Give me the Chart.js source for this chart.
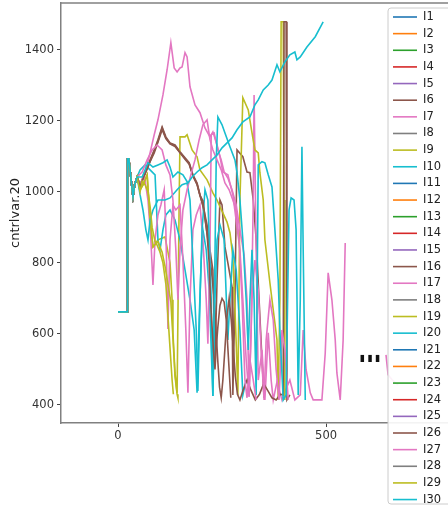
<!DOCTYPE html>
<html>
<head>
<meta charset="utf-8">
<script src="https://cdn.jsdelivr.net/npm/chart.js@4.4.1/dist/chart.umd.min.js"></script>
<style>
  html, body { margin: 0; padding: 0; background: #fff; }
</style>
</head>
<body>
<canvas id="chart" width="448" height="512"></canvas>
<script>
// series names, as in the legend
const seriesNames = ["I1", "I2", "I3", "I4", "I5", "I6", "I7", "I8", "I9", "I10",
  "I11", "I12", "I13", "I14", "I15", "I16", "I17", "I18", "I19", "I20",
  "I21", "I22", "I23", "I24", "I25", "I26", "I27", "I28", "I29", "I30"];

const xTicks = [0, 500];
const yTicks = [400, 600, 800, 1000, 1200, 1400];

// shared beginning of every run (step at 660 then jump)
const startX = [0, 22, 23, 26, 30, 36, 40, 46];
const startY = [662, 662, 1093, 1093, 1050, 986, 1020, 1042];

// own part of each visible series, after the shared beginning
const i6X = [53, 65, 77, 87, 96, 106, 115, 125, 137, 149, 161, 171, 180, 190, 197, 204, 214, 221, 228, 233, 238, 245, 250, 257, 264, 274, 276, 281, 286, 300, 310, 317, 325, 332, 339, 346, 351];
const i6Y = [1020, 1056, 1090, 1118, 1147, 1183, 1155, 1138, 1132, 1113, 1096, 1082, 1048, 1025, 992, 963, 907, 837, 780, 521, 752, 977, 963, 845, 800, 732, 428, 696, 1118, 1099, 1056, 1054, 977, 865, 696, 527, 420];

const i7X = [53, 60, 70, 77, 87, 96, 108, 118, 127, 135, 142, 149, 154, 161, 166, 173, 185, 197, 209, 221, 228, 238, 245, 252, 264, 276, 286, 293, 300, 308, 315, 320, 325, 327, 332, 337, 346, 353, 361, 368, 373, 382, 394, 401, 413, 425, 438, 445, 452, 462, 469, 481, 490, 498, 505, 514, 522, 526, 534, 541, 546, 565, 644, 649, 659, 673];
const i7Y = [1006, 1034, 1076, 1110, 1161, 1203, 1273, 1344, 1420, 1349, 1338, 1349, 1352, 1392, 1380, 1296, 1245, 1223, 1180, 1155, 1169, 1132, 1099, 1056, 1048, 992, 901, 837, 696, 527, 423, 611, 977, 1273, 837, 470, 555, 414, 603, 470, 414, 465, 414, 437, 470, 414, 428, 611, 499, 434, 414, 414, 414, 546, 772, 696, 583, 490, 414, 583, 856, null, 541, 485, 470, 456];

const i9X = [53, 60, 70, 77, 84, 96, 113, 125, 130, 132, 137, 142, 147, 149, 161, 166, 178, 190, 197, 214, 228, 238, 245, 252, 262, 269, 276, 281, 284, 288, 293, 300, 313, 322, 329, 337, 341, 349, 353, 365, 373, 382, 385, 389, 392, 397, 399, 401];
const i9Y = [1006, 1020, 1048, 921, 845, 865, 873, 800, 696, 603, 490, 434, 977, 1155, 1155, 1161, 1118, 1099, 1062, 1034, 997, 977, 958, 941, 915, 885, 817, 668, 575, 428, 977, 1265, 1231, 1166, 1118, 1110, 1054, 977, 865, 744, 668, 583, 414, 696, 1479, 1479, 977, 414];

const i10X = [53, 65, 77, 89, 96, 101, 108, 115, 125, 137, 149, 161, 173, 183, 190, 195, 200, 204, 212, 219, 228, 233, 238, 245, 255, 264, 269, 276, 284, 293, 300, 308];
const i10Y = [1062, 1076, 1062, 1048, 865, 837, 893, 935, 949, 921, 865, 780, 696, 611, 434, 639, 808, 893, 837, 724, 425, 696, 865, 907, 865, 583, 696, 837, 780, 611, 428, 470];

const i16X = [53, 65, 77, 87, 96, 106, 115, 125, 137, 149, 161, 171, 180, 190, 197, 204, 212, 219, 226, 231, 236, 240, 244, 248, 252, 257, 262, 267, 272, 277, 282, 287, 293, 300, 310, 320, 330, 340, 350, 360, 370, 380, 390, 397, 399, 404, 406, 413];
const i16Y = [1020, 1050, 1085, 1110, 1140, 1175, 1150, 1135, 1128, 1110, 1092, 1078, 1045, 1020, 990, 960, 900, 840, 760, 700, 600, 520, 450, 420, 470, 560, 650, 700, 640, 560, 480, 430, 414, 440, 470, 440, 414, 430, 460, 440, 420, 414, 430, 428, 1479, 1479, 414, 428];

const i17X = [53, 63, 72, 79, 84, 89, 96, 103, 111, 115, 120, 125, 132, 139, 149, 156, 163, 168, 173, 180, 188, 197, 204, 212, 216, 221, 224, 231, 240, 248, 255, 264, 274, 284, 293, 303, 310, 315, 322, 329, 337, 344, 351, 356, 365, 373, 380, 387, 394, 401, 409];
const i17Y = [1020, 1048, 977, 865, 738, 865, 935, 963, 1006, 893, 614, 865, 963, 949, 963, 808, 611, 434, 696, 893, 935, 963, 865, 696, 572, 837, 1161, 1166, 1118, 1090, 1056, 1039, 1006, 963, 893, 823, 696, 423, 696, 808, 724, 555, 414, 583, 696, 639, 499, 414, 611, 555, 414];

const i19X = [53, 60, 70, 77, 84, 96, 106, 113, 120, 127, 132, 137, 142, 144];
const i19Y = [1006, 1020, 1048, 921, 845, 860, 830, 790, 740, 690, 590, 480, 430, 420];

const i20X = [53, 60, 67, 72, 77, 84, 96, 113, 125, 142, 154, 166, 173, 180, 188, 192, 197, 202, 209, 216, 224, 228, 233, 236, 240, 250, 257, 269, 281, 286, 293, 300, 308, 313, 317, 322, 327, 332, 337, 346, 353, 361, 370, 377, 385, 389, 397, 404, 411, 416, 423, 428, 433, 438, 442, 445, 450];
const i20Y = [992, 949, 893, 865, 921, 949, 977, 977, 983, 1006, 1020, 1025, 977, 808, 611, 439, 696, 893, 1006, 977, 696, 425, 817, 1090, 1211, 1189, 1166, 1127, 1090, 1054, 977, 865, 696, 555, 696, 837, 696, 428, 1076, 1085, 1082, 1048, 1014, 893, 752, 611, 414, 428, 949, 983, 977, 893, 428, 696, 1127, 837, 414];

const i26X = [53, 65, 77, 87, 96, 106, 115, 125, 137, 149, 161, 171, 180, 190, 197, 204, 209, 214, 219, 222, 226, 229, 233, 236, 240, 245, 250, 255, 260, 264, 268, 271];
const i26Y = [1015, 1052, 1086, 1115, 1143, 1180, 1152, 1136, 1130, 1111, 1094, 1080, 1046, 1022, 990, 975, 930, 880, 800, 700, 620, 560, 500, 560, 620, 680, 700, 690, 640, 560, 480, 420];

const i27X = [58, 70, 82, 94, 106, 115, 125, 132, 139, 144, 149, 156, 166, 175, 185, 195, 204, 214, 221, 228, 238, 248, 257, 267, 276, 284, 291, 298, 305, 310, 317, 325, 332];
const i27Y = [1056, 1090, 1118, 1132, 1118, 1076, 1048, 977, 837, 696, 837, 949, 1006, 1048, 1090, 1147, 1189, 1203, 1147, 1118, 1090, 1062, 1025, 1006, 977, 949, 865, 696, 470, 420, 527, 470, 414];

const i29X = [53, 58, 65, 72, 77, 82, 89, 94, 101, 108, 115, 120, 125, 130, 133];
const i29Y = [1000, 1030, 1020, 1000, 960, 900, 860, 850, 830, 800, 740, 650, 560, 470, 430];

const i30X = [58, 72, 84, 96, 108, 118, 125, 132, 144, 156, 168, 178, 190, 202, 214, 226, 238, 250, 262, 274, 286, 300, 317, 329, 337, 349, 361, 370, 382, 389, 401, 413, 425, 430, 438, 454, 474, 493];
const i30Y = [1042, 1082, 1070, 1076, 1082, 1090, 1070, 1042, 1056, 1048, 1025, 1042, 1056, 1068, 1076, 1090, 1104, 1124, 1138, 1152, 1175, 1197, 1211, 1245, 1259, 1287, 1301, 1315, 1358, 1338, 1366, 1386, 1394, 1372, 1380, 1408, 1437, 1479];

const ownParts = {
  I6: [i6X, i6Y], I7: [i7X, i7Y], I9: [i9X, i9Y], I10: [i10X, i10Y],
  I16: [i16X, i16Y], I17: [i17X, i17Y], I19: [i19X, i19Y], I20: [i20X, i20Y],
  I26: [i26X, i26Y], I27: [i27X, i27Y], I29: [i29X, i29Y], I30: [i30X, i30Y]
};

const tab10 = ["#1f77b4", "#ff7f0e", "#2ca02c", "#d62728", "#9467bd",
  "#8c564b", "#e377c2", "#7f7f7f", "#bcbd22", "#17becf"];

const datasets = seriesNames.map((name, i) => {
  const part = ownParts[name];
  const xs = part ? startX.concat(part[0]) : startX;
  const ys = part ? startY.concat(part[1]) : startY;
  return {
    label: name,
    data: xs.map((x, k) => ({ x: x, y: ys[k] })),
    borderColor: tab10[i % 10],
    backgroundColor: tab10[i % 10],
    borderWidth: 1.6,
    pointRadius: 0,
    tension: 0,
    fill: false,
    // later runs drawn on top, like matplotlib
    order: seriesNames.length - i
  };
});

const tickFont = { family: "DejaVu Sans", size: 11.5 };

const decorations = {
  id: "decorations",
  afterDatasetsDraw(chart) {
    const ctx = chart.ctx;
    const a = chart.chartArea;
    ctx.save();
    // top spine
    ctx.strokeStyle = "#808080";
    ctx.lineWidth = 1.5;
    ctx.beginPath();
    ctx.moveTo(a.left, a.top);
    ctx.lineTo(a.right, a.top);
    ctx.stroke();
    // the "..." gap marker
    ctx.fillStyle = "#111";
    ctx.font = "bold 20px 'DejaVu Sans'";
    ctx.textAlign = "center";
    ctx.translate(370, 361.5);
    ctx.scale(1, 1.9);
    ctx.fillText("...", 0, 0);
    ctx.restore();
  },
  afterDraw(chart) {
    const ctx = chart.ctx;
    ctx.save();
    const left = 388, top = 8, right = 456, bottom = 504, r = 3;
    ctx.beginPath();
    ctx.moveTo(left + r, top);
    ctx.lineTo(right, top);
    ctx.lineTo(right, bottom);
    ctx.lineTo(left + r, bottom);
    ctx.arcTo(left, bottom, left, bottom - r, r);
    ctx.lineTo(left, top + r);
    ctx.arcTo(left, top, left + r, top, r);
    ctx.closePath();
    ctx.fillStyle = "rgba(255,255,255,0.9)";
    ctx.fill();
    ctx.strokeStyle = "#cccccc";
    ctx.lineWidth = 1;
    ctx.stroke();
    ctx.font = "11.5px 'DejaVu Sans'";
    ctx.textBaseline = "middle";
    chart.data.datasets.forEach((ds, i) => {
      const y = 17 + i * 16.64;
      ctx.strokeStyle = ds.borderColor;
      ctx.lineWidth = 1.6;
      ctx.beginPath();
      ctx.moveTo(393, y);
      ctx.lineTo(417, y);
      ctx.stroke();
      ctx.fillStyle = "#222";
      ctx.fillText(ds.label, 423, y);
    });
    ctx.restore();
  }
};

new Chart(document.getElementById("chart"), {
  type: "line",
  data: { datasets: datasets },
  options: {
    responsive: false,
    animation: false,
    layout: { padding: { top: 3, right: 0, bottom: 0, left: 0 } },
    plugins: {
      legend: { display: false },
      tooltip: { enabled: false }
    },
    scales: {
      x: {
        type: "linear",
        min: -137,
        max: 793,
        afterBuildTicks: s => { s.ticks = xTicks.map(v => ({ value: v })); },
        afterFit: s => { s.height = 89; s.paddingLeft = 0; s.paddingRight = 0; },
        ticks: { color: "#333", font: tickFont, padding: 2, callback: v => String(v) },
        grid: { drawOnChartArea: false, drawTicks: true, tickLength: 4, tickColor: "#444" },
        border: { display: true, color: "#808080", width: 1.5 }
      },
      y: {
        type: "linear",
        min: 349,
        max: 1532,
        afterBuildTicks: s => { s.ticks = yTicks.map(v => ({ value: v })); },
        afterFit: s => { s.width = 61; s.paddingTop = 0; s.paddingBottom = 0; },
        ticks: { color: "#333", font: tickFont, padding: 3, callback: v => String(v) },
        grid: { drawOnChartArea: false, drawTicks: true, tickLength: 4, tickColor: "#444" },
        border: { display: true, color: "#808080", width: 1.5 },
        title: {
          display: true,
          text: "cntrlvar.20",
          color: "#222",
          font: { family: "DejaVu Sans", size: 13 },
          padding: { top: 8, bottom: 4 }
        }
      }
    }
  },
  plugins: [decorations]
});
</script>
</body>
</html>
